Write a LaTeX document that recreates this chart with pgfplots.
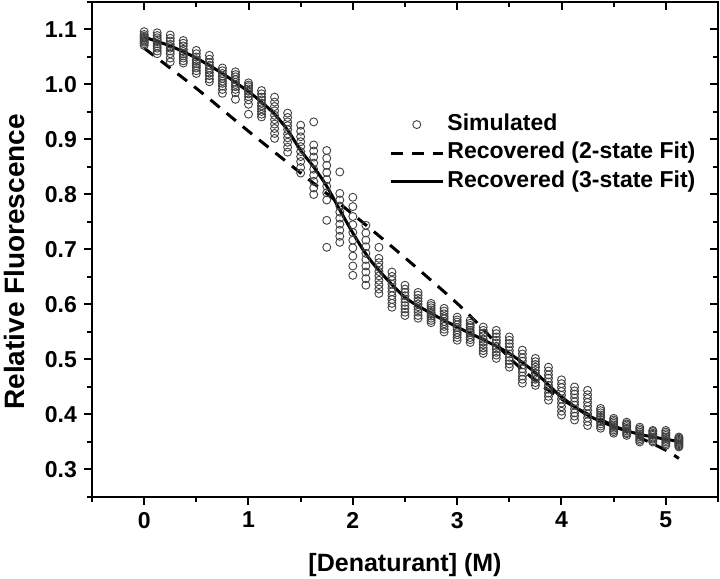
\documentclass[border=0pt]{standalone}
\usepackage{fontspec}
\setmainfont{Liberation Sans}
\usepackage{pgfplots}
\usepackage{pgfplotstable}
\pgfplotsset{compat=1.18}
\usetikzlibrary{calc}

% simulated data: 10 replicates at each denaturant concentration
\pgfplotstableread{
x     r1    r2    r3    r4    r5    r6    r7    r8    r9    r10
0     1.096 1.091 1.088 1.086 1.084 1.081 1.079 1.077 1.074 1.071
0.125 1.094 1.089 1.085 1.081 1.078 1.074 1.070 1.066 1.061 1.056
0.25  1.090 1.084 1.079 1.073 1.069 1.066 1.061 1.056 1.048 1.041
0.375 1.080 1.075 1.070 1.064 1.060 1.056 1.052 1.048 1.043 1.039
0.5   1.062 1.056 1.050 1.045 1.042 1.038 1.034 1.030 1.025 1.020
0.625 1.053 1.046 1.040 1.035 1.030 1.026 1.021 1.016 1.010 1.005
0.75  1.030 1.025 1.020 1.015 1.011 1.006 1.002 0.997 0.991 0.984
0.875 1.023 1.018 1.014 1.009 1.004 1.000 0.996 0.991 0.985 0.973
1.0   1.003 0.999 0.996 0.992 0.988 0.983 0.978 0.972 0.964 0.946
1.125 0.989 0.983 0.977 0.972 0.966 0.961 0.956 0.951 0.946 0.941
1.25  0.977 0.968 0.960 0.952 0.944 0.936 0.928 0.920 0.911 0.902
1.375 0.948 0.940 0.932 0.925 0.918 0.910 0.903 0.895 0.886 0.877
1.5   0.926 0.915 0.905 0.896 0.887 0.878 0.869 0.860 0.849 0.839
1.625 0.932 0.890 0.879 0.868 0.857 0.846 0.835 0.824 0.812 0.800
1.75  0.880 0.866 0.853 0.840 0.827 0.815 0.803 0.790 0.753 0.704
1.875 0.841 0.802 0.790 0.779 0.768 0.757 0.746 0.735 0.724 0.713
2.0   0.795 0.778 0.760 0.745 0.731 0.717 0.703 0.688 0.670 0.653
2.125 0.744 0.730 0.717 0.705 0.693 0.682 0.670 0.659 0.647 0.635
2.25  0.704 0.684 0.676 0.668 0.660 0.652 0.644 0.636 0.628 0.620
2.375 0.659 0.651 0.644 0.637 0.630 0.623 0.616 0.609 0.602 0.595
2.5   0.635 0.628 0.622 0.616 0.610 0.604 0.598 0.592 0.586 0.580
2.625 0.622 0.617 0.611 0.606 0.601 0.596 0.591 0.586 0.580 0.575
2.75  0.602 0.598 0.594 0.590 0.586 0.583 0.579 0.575 0.571 0.567
2.875 0.593 0.588 0.583 0.578 0.574 0.569 0.565 0.560 0.555 0.550
3.0   0.577 0.572 0.568 0.563 0.558 0.554 0.549 0.545 0.540 0.535
3.125 0.571 0.566 0.562 0.558 0.553 0.549 0.545 0.540 0.536 0.531
3.25  0.559 0.553 0.548 0.543 0.537 0.532 0.527 0.521 0.516 0.511
3.375 0.553 0.547 0.541 0.535 0.530 0.524 0.519 0.513 0.508 0.502
3.5   0.541 0.535 0.529 0.523 0.516 0.510 0.504 0.498 0.492 0.486
3.625 0.517 0.510 0.503 0.497 0.490 0.483 0.477 0.470 0.464 0.457
3.75  0.502 0.496 0.491 0.486 0.480 0.475 0.469 0.464 0.458 0.453
3.875 0.486 0.479 0.472 0.466 0.459 0.453 0.446 0.439 0.433 0.426
4.0   0.463 0.456 0.449 0.442 0.435 0.428 0.421 0.414 0.406 0.399
4.125 0.450 0.443 0.437 0.430 0.423 0.417 0.410 0.403 0.397 0.390
4.25  0.444 0.436 0.429 0.422 0.415 0.408 0.401 0.394 0.387 0.380
4.375 0.411 0.407 0.403 0.399 0.395 0.391 0.387 0.383 0.379 0.375
4.5   0.393 0.390 0.387 0.384 0.381 0.378 0.375 0.372 0.369 0.366
4.625 0.386 0.383 0.381 0.378 0.375 0.373 0.370 0.367 0.365 0.362
4.75  0.377 0.374 0.371 0.368 0.365 0.362 0.359 0.356 0.353 0.350
4.875 0.371 0.369 0.366 0.364 0.362 0.359 0.357 0.355 0.352 0.350
5.0   0.371 0.368 0.365 0.362 0.359 0.356 0.353 0.350 0.347 0.344
5.125 0.359 0.357 0.355 0.353 0.351 0.349 0.347 0.345 0.343 0.341
}\simdata

\pgfplotstableread{
x     y
0     1.066
0.5   0.993
1.0   0.915
1.5   0.839
2.0   0.764
2.5   0.685
3.0   0.602
3.25  0.555
3.5   0.503
3.75  0.462
4.0   0.428
4.25  0.401
4.5   0.380
4.75  0.358
5.0   0.335
5.125 0.320
}\twostate

\pgfplotstableread{
x     y
0     1.086
0.25  1.070
0.5   1.048
0.75  1.020
1.0   0.987
1.125 0.968
1.25  0.946
1.375 0.917
1.5   0.880
1.625 0.850
1.75  0.815
1.875 0.772
2.0   0.730
2.125 0.692
2.25  0.662
2.5   0.613
2.75  0.584
3.0   0.559
3.25  0.536
3.5   0.511
3.75  0.476
4.0   0.432
4.25  0.399
4.5   0.378
4.75  0.364
5.0   0.355
5.125 0.351
}\threestate

\pgfplotsset{
  frame/.style={
    scale only axis, width=313pt, height=247.5pt,
    xmin=-0.5, xmax=5.5, ymin=0.25, ymax=1.15,
    axis line style={line width=1.1pt},
    tick style={line width=1pt, black},
    major tick length=4pt, minor tick length=2.5pt,
    xtick={0,1,2,3,4,5},
    minor xtick={-0.5,0.5,1.5,2.5,3.5,4.5,5.5},
    ytick={0.3,0.4,0.5,0.6,0.7,0.8,0.9,1.0,1.1},
    minor ytick={0.25,0.35,0.45,0.55,0.65,0.75,0.85,0.95,1.05,1.15},
  },
  sim/.style={only marks, mark=o, mark size=2pt,
    mark options={line width=0.45pt, draw=black!75}},
  simlegend/.style={legend image code/.code={\draw[mark repeat=2,mark phase=2,##1]
    plot coordinates {(0cm,0cm) (0.46cm,0cm) (0.92cm,0cm)};}},
  linelegend/.style={legend image code/.code={\draw[##1] (0cm,0cm) -- (0.92cm,0cm);}},
}

\begin{document}
\begin{tikzpicture}
\begin{axis}[frame, name=ax,
  tick align=outside, xtick pos=left, ytick pos=left,
  /pgf/number format/assume math mode=true,
  tick label style={font=\fontsize{11.5}{13}\selectfont\bfseries},
  yticklabel style={/pgf/number format/fixed,
    /pgf/number format/fixed zerofill, /pgf/number format/precision=1},
  xlabel={[Denaturant] (M)}, ylabel={Relative Fluorescence},
  xlabel style={font=\fontsize{12.5}{14}\selectfont\bfseries,
    at={(axis description cs:0.5,-0.137)}, anchor=center},
  ylabel style={font=\fontsize{14}{16}\selectfont\bfseries,
    at={(axis description cs:-0.1246,0.475)}, anchor=center},
  legend style={draw=none, fill=none, inner sep=0pt,
    at={(axis description cs:0.474,0.781)}, anchor=north west,
    font=\fontsize{11.5}{13}\selectfont\bfseries,
    nodes={text height=8.3pt, text depth=2.5pt, inner sep=1.5pt},
    row sep=0.45pt, cells={anchor=west}},
]
\addplot[sim, simlegend] table[x=x, y=r1] {\simdata};
\addlegendentry{Simulated}
\addplot[sim, forget plot] table[x=x, y=r2] {\simdata};
\addplot[sim, forget plot] table[x=x, y=r3] {\simdata};
\addplot[sim, forget plot] table[x=x, y=r4] {\simdata};
\addplot[sim, forget plot] table[x=x, y=r5] {\simdata};
\addplot[sim, forget plot] table[x=x, y=r6] {\simdata};
\addplot[sim, forget plot] table[x=x, y=r7] {\simdata};
\addplot[sim, forget plot] table[x=x, y=r8] {\simdata};
\addplot[sim, forget plot] table[x=x, y=r9] {\simdata};
\addplot[sim, forget plot] table[x=x, y=r10] {\simdata};
\addplot[black, line width=1.5pt, dash pattern=on 6pt off 4.5pt, smooth, linelegend]
  table {\twostate};
\addlegendentry{Recovered (2-state Fit)}
\addplot[black, line width=1.5pt, smooth, linelegend]
  table {\threestate};
\addlegendentry{Recovered (3-state Fit)}
\end{axis}
% inward ticks on the top and right edges
\begin{axis}[frame, tick align=inside, xtick pos=right, ytick pos=right,
  xticklabels={}, yticklabels={}]
\end{axis}
\pgfresetboundingbox
\useasboundingbox ($(ax.south west)+(-46pt,-41pt)$) rectangle ($(ax.north east)+(1pt,1pt)$);
\end{tikzpicture}
\end{document}
